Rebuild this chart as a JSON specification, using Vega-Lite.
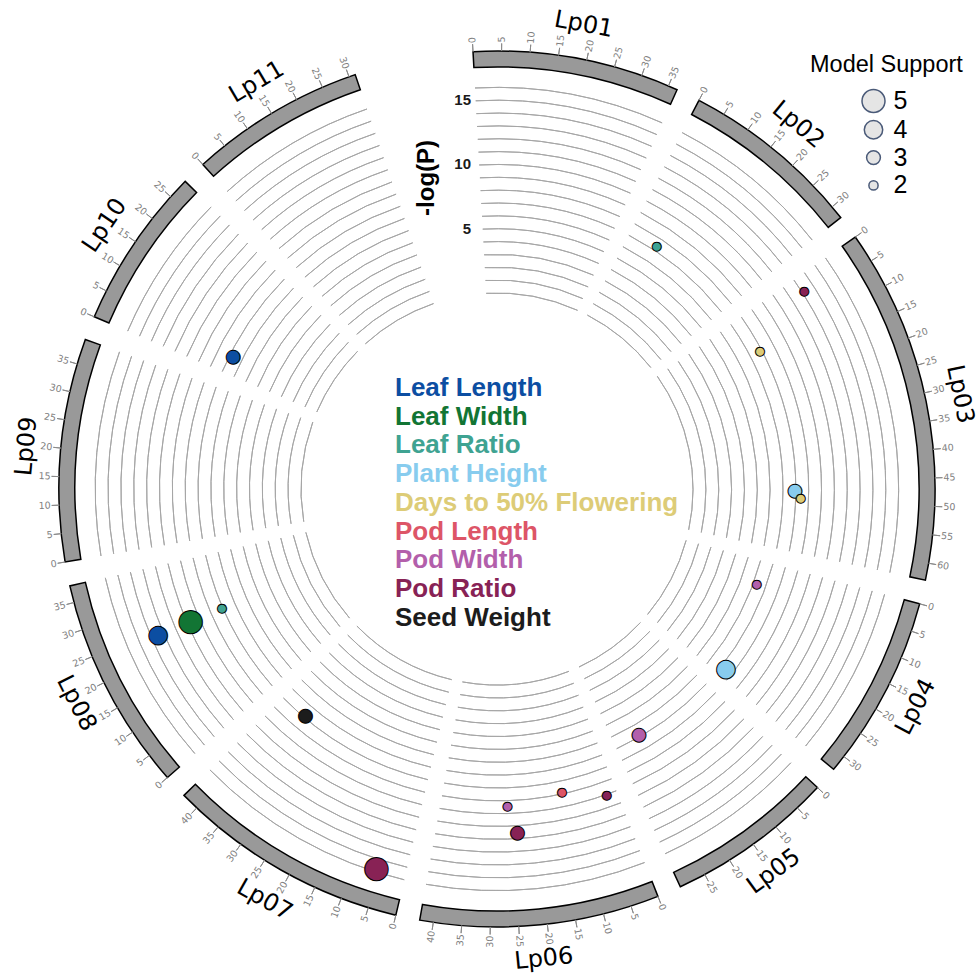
{
  "$schema": "https://vega.github.io/schema/vega-lite/v6.json",
  "width": 958,
  "height": 978,
  "autosize": {"type": "none"},
  "padding": {"left": 18, "top": 0, "right": 0, "bottom": 0},
  "background": "white",
  "config": {"view": {"stroke": null}},
  "data": {"values": [
    {"chr": "Lp01", "len": 36.65},
    {"chr": "Lp02", "len": 32.40},
    {"chr": "Lp03", "len": 63.01},
    {"chr": "Lp04", "len": 32.87},
    {"chr": "Lp05", "len": 29.79},
    {"chr": "Lp06", "len": 42.41},
    {"chr": "Lp07", "len": 43.13},
    {"chr": "Lp08", "len": 37.99},
    {"chr": "Lp09", "len": 39.52},
    {"chr": "Lp10", "len": 28.70},
    {"chr": "Lp11", "len": 31.15},
    {"chr": "Lp02", "pos": 7.8, "p": 7.39, "trait": "Leaf Ratio", "support": 2},
    {"chr": "Lp03", "pos": 3.1, "p": 13.18, "trait": "Pod Ratio", "support": 2},
    {"chr": "Lp03", "pos": 9.9, "p": 7.86, "trait": "Days to 50% Flowering", "support": 2},
    {"chr": "Lp03", "pos": 47.4, "p": 7.94, "trait": "Plant Height", "support": 3},
    {"chr": "Lp03", "pos": 49.3, "p": 8.39, "trait": "Days to 50% Flowering", "support": 2},
    {"chr": "Lp04", "pos": 6.5, "p": 6.27, "trait": "Pod Width", "support": 2},
    {"chr": "Lp04", "pos": 30.8, "p": 7.43, "trait": "Plant Height", "support": 4},
    {"chr": "Lp05", "pos": 22.8, "p": 6.87, "trait": "Pod Width", "support": 3},
    {"chr": "Lp06", "pos": 2.5, "p": 10.07, "trait": "Pod Ratio", "support": 2},
    {"chr": "Lp06", "pos": 12.6, "p": 8.84, "trait": "Pod Length", "support": 2},
    {"chr": "Lp06", "pos": 26.3, "p": 9.41, "trait": "Pod Width", "support": 2},
    {"chr": "Lp06", "pos": 24.3, "p": 11.59, "trait": "Pod Ratio", "support": 3},
    {"chr": "Lp07", "pos": 5.75, "p": 15.72, "trait": "Pod Ratio", "support": 5},
    {"chr": "Lp07", "pos": 35.9, "p": 7.85, "trait": "Seed Weight", "support": 3},
    {"chr": "Lp08", "pos": 23.85, "p": 13.46, "trait": "Leaf Length", "support": 4},
    {"chr": "Lp08", "pos": 23.9, "p": 10.70, "trait": "Leaf Width", "support": 5},
    {"chr": "Lp08", "pos": 23.9, "p": 8.06, "trait": "Leaf Ratio", "support": 2},
    {"chr": "Lp10", "pos": 4.5, "p": 7.69, "trait": "Leaf Length", "support": 3}
  ]},
  "transform": [
    {"joinaggregate": [{"op": "max", "field": "len", "as": "clen"}], "groupby": ["chr"]},
    {"window": [{"op": "sum", "field": "len", "as": "cum"}, {"op": "dense_rank", "as": "rank"}], "sort": [{"field": "chr", "order": "ascending"}]},
    {"calculate": "datum.cum - datum.clen + (datum.rank - 1) * 4.26", "as": "start"},
    {"calculate": "datum.start + datum.clen", "as": "end"}
  ],
  "layer": [
    {
      "transform": [
        {"filter": "isValid(datum.len)"},
        {"impute": "imp", "key": "lvl", "keyvals": [0,1,2,3,4,5,6,7,8,9,10,11,12,13,14,15,16], "groupby": ["chr", "start", "end"], "value": 0},
        {"filter": "isValid(datum.lvl)"}
      ],
      "mark": {"type": "arc", "filled": false, "stroke": "#a6a6a6", "strokeWidth": 1},
      "encoding": {
        "theta": {"field": "start", "type": "quantitative", "stack": null, "scale": {"type": "linear", "domain": [0, 481.28], "range": [-0.054803, 6.228382], "zero": false, "nice": false}},
        "theta2": {"field": "end"},
        "radius": {"field": "lvl", "type": "quantitative", "scale": {"type": "linear", "domain": [-15.25, 18.83], "range": [0, 438], "zero": false, "nice": false}},
        "radius2": {"field": "lvl"}
      }
    },
    {
      "transform": [{"filter": "isValid(datum.len)"}],
      "mark": {"type": "arc", "fill": "#999999", "stroke": "black", "strokeWidth": 1.5},
      "encoding": {
        "theta": {"field": "start", "type": "quantitative", "stack": null, "scale": {"type": "linear", "domain": [0, 481.28], "range": [-0.054803, 6.228382], "zero": false, "nice": false}},
        "theta2": {"field": "end"},
        "radius": {"datum": 18.83, "type": "quantitative", "scale": {"type": "linear", "domain": [-15.25, 18.83], "range": [0, 438], "zero": false, "nice": false}},
        "radius2": {"datum": 17.59}
      }
    },
    {
      "transform": [
        {"filter": "isValid(datum.len)"},
        {"impute": "imp", "key": "tk", "keyvals": [0,5,10,15,20,25,30,35,40,45,50,55,60,65], "groupby": ["chr", "start", "clen"], "value": 0},
        {"filter": "isValid(datum.tk) && datum.tk <= datum.clen"},
        {"calculate": "datum.start + datum.tk", "as": "g"}
      ],
      "mark": {"type": "arc", "filled": false, "stroke": "#8a8a8a", "strokeWidth": 1},
      "encoding": {
        "theta": {"field": "g", "type": "quantitative", "stack": null, "scale": {"type": "linear", "domain": [0, 481.28], "range": [-0.054803, 6.228382], "zero": false, "nice": false}},
        "theta2": {"field": "g"},
        "radius": {"datum": 19.42, "type": "quantitative", "scale": {"type": "linear", "domain": [-15.25, 18.83], "range": [0, 438], "zero": false, "nice": false}},
        "radius2": {"datum": 18.83}
      }
    },
    {
      "transform": [
        {"filter": "isValid(datum.len)"},
        {"impute": "imp", "key": "tk", "keyvals": [0,5,10,15,20,25,30,35,40,45,50,55,60,65], "groupby": ["chr", "start", "clen"], "value": 0},
        {"filter": "isValid(datum.tk) && datum.tk <= datum.clen"},
        {"calculate": "datum.start + datum.tk", "as": "g"},
        {"calculate": "-3.14 + datum.g * 360 / 481.28", "as": "deg"},
        {"filter": "datum.deg < 180"},
        {"calculate": "datum.deg - 90", "as": "ang"}
      ],
      "mark": {"type": "text", "font": "DejaVu Sans", "fontSize": 9.5, "color": "#808080", "align": "left", "baseline": "middle"},
      "encoding": {
        "text": {"field": "tk", "type": "quantitative", "format": "d"},
        "theta": {"field": "g", "type": "quantitative", "stack": null, "scale": {"type": "linear", "domain": [0, 481.28], "range": [-0.054803, 6.228382], "zero": false, "nice": false}},
        "radius": {"datum": 19.5, "type": "quantitative", "scale": {"type": "linear", "domain": [-15.25, 18.83], "range": [0, 438], "zero": false, "nice": false}},
        "angle": {"field": "ang", "type": "quantitative", "scale": null}
      }
    },
    {
      "transform": [
        {"filter": "isValid(datum.len)"},
        {"impute": "imp", "key": "tk", "keyvals": [0,5,10,15,20,25,30,35,40,45,50,55,60,65], "groupby": ["chr", "start", "clen"], "value": 0},
        {"filter": "isValid(datum.tk) && datum.tk <= datum.clen"},
        {"calculate": "datum.start + datum.tk", "as": "g"},
        {"calculate": "-3.14 + datum.g * 360 / 481.28", "as": "deg"},
        {"filter": "datum.deg >= 180"},
        {"calculate": "datum.deg + 90", "as": "ang"}
      ],
      "mark": {"type": "text", "font": "DejaVu Sans", "fontSize": 9.5, "color": "#808080", "align": "right", "baseline": "middle"},
      "encoding": {
        "text": {"field": "tk", "type": "quantitative", "format": "d"},
        "theta": {"field": "g", "type": "quantitative", "stack": null, "scale": {"type": "linear", "domain": [0, 481.28], "range": [-0.054803, 6.228382], "zero": false, "nice": false}},
        "radius": {"datum": 19.5, "type": "quantitative", "scale": {"type": "linear", "domain": [-15.25, 18.83], "range": [0, 438], "zero": false, "nice": false}},
        "angle": {"field": "ang", "type": "quantitative", "scale": null}
      }
    },
    {
      "transform": [
        {"filter": "isValid(datum.len)"},
        {"calculate": "(datum.start + datum.end) / 2", "as": "mid"},
        {"calculate": "-3.14 + datum.mid * 360 / 481.28", "as": "deg"},
        {"calculate": "datum.deg > 90 && datum.deg < 270 ? datum.deg - 180 : datum.deg", "as": "ang"}
      ],
      "mark": {"type": "text", "font": "DejaVu Sans", "fontSize": 24, "color": "black", "align": "center", "baseline": "middle"},
      "encoding": {
        "text": {"field": "chr", "type": "nominal"},
        "theta": {"field": "mid", "type": "quantitative", "stack": null, "scale": {"type": "linear", "domain": [0, 481.28], "range": [-0.054803, 6.228382], "zero": false, "nice": false}},
        "radius": {"datum": 21.5, "type": "quantitative", "scale": {"type": "linear", "domain": [-15.25, 18.83], "range": [0, 438], "zero": false, "nice": false}},
        "angle": {"field": "ang", "type": "quantitative", "scale": null}
      }
    },
    {
      "transform": [
        {"filter": "isValid(datum.p)"},
        {"calculate": "datum.start + datum.pos", "as": "g"}
      ],
      "mark": {"type": "text", "text": "●", "font": "DejaVu Sans", "stroke": "black", "strokeWidth": 1, "align": "center", "baseline": "middle"},
      "encoding": {
        "theta": {"field": "g", "type": "quantitative", "stack": null, "scale": {"type": "linear", "domain": [0, 481.28], "range": [-0.054803, 6.228382], "zero": false, "nice": false}},
        "radius": {"field": "p", "type": "quantitative", "scale": {"type": "linear", "domain": [-15.25, 18.83], "range": [0, 438], "zero": false, "nice": false}},
        "color": {
          "field": "trait", "type": "nominal",
          "scale": {
            "domain": ["Leaf Length", "Leaf Width", "Leaf Ratio", "Plant Height", "Days to 50% Flowering", "Pod Length", "Pod Width", "Pod Ratio", "Seed Weight"],
            "range": ["#0c4ea2", "#127534", "#3fa392", "#88ccee", "#ddcc77", "#dd5567", "#b35fab", "#882255", "#1c1c1c"]
          },
          "legend": {
            "title": null, "orient": "none", "legendX": 351, "legendY": 375,
            "symbolSize": 0, "symbolStrokeWidth": 0, "symbolOpacity": 0,
            "labelFont": "Liberation Sans", "labelFontWeight": "bold", "labelFontSize": 26,
            "labelColor": {"expr": "scale('color', datum.value)"},
            "labelOffset": 0, "rowPadding": 2.7, "padding": 0, "labelLimit": 500
          }
        },
        "size": {"field": "support", "type": "quantitative", "scale": {"type": "linear", "domain": [2, 5], "range": [12, 30.7], "zero": false}, "legend": null}
      }
    },
    {
      "data": {"values": [{"v": 5}, {"v": 10}, {"v": 15}]},
      "mark": {"type": "text", "font": "Liberation Sans", "fontWeight": "bold", "fontSize": 15, "align": "right", "baseline": "middle", "dx": -26, "color": "#1a1a1a"},
      "encoding": {
        "text": {"field": "v", "type": "quantitative", "format": "d"},
        "theta": {"datum": 4.198, "type": "quantitative", "scale": {"type": "linear", "domain": [0, 481.28], "range": [-0.054803, 6.228382], "zero": false, "nice": false}},
        "radius": {"field": "v", "type": "quantitative", "scale": {"type": "linear", "domain": [-15.25, 18.83], "range": [0, 438], "zero": false, "nice": false}}
      }
    },
    {
      "data": {"values": [{"t": "-log(P)"}]},
      "mark": {"type": "text", "font": "Liberation Sans", "fontWeight": "bold", "fontSize": 24, "angle": 270, "align": "center", "baseline": "middle", "color": "black"},
      "encoding": {
        "text": {"field": "t", "type": "nominal"},
        "theta": {"datum": -12.65, "type": "quantitative", "scale": {"type": "linear", "domain": [0, 481.28], "range": [-0.054803, 6.228382], "zero": false, "nice": false}},
        "radius": {"datum": 9.55, "type": "quantitative", "scale": {"type": "linear", "domain": [-15.25, 18.83], "range": [0, 438], "zero": false, "nice": false}}
      }
    },
    {
      "transform": [{"filter": "false"}],
      "mark": {"type": "point", "filled": false, "shape": "circle", "fill": "#e5e5e5", "stroke": "#4a5a78", "strokeWidth": 1.5, "opacity": 1},
      "encoding": {
        "size": {
          "field": "support", "type": "quantitative",
          "scale": {"type": "pow", "exponent": 2, "domain": [0, 5], "range": [0, 529]},
          "legend": {
            "title": "Model Support", "values": [5, 4, 3, 2], "orient": "none", "legendX": 792, "legendY": 53,
            "titleFont": "Liberation Sans", "titleFontSize": 23.5, "titleFontWeight": "normal", "titleColor": "black", "titlePadding": 12, "titleLimit": 400,
            "labelFont": "Liberation Sans", "labelFontSize": 25, "labelColor": "black",
            "symbolType": "circle", "symbolStrokeWidth": 1.5, "symbolOpacity": 1,
            "symbolOffset": 51, "labelOffset": 7.5, "rowPadding": 1.8, "padding": 0
          }
        }
      }
    }
  ],
  "resolve": {"scale": {"size": "independent"}}
}
